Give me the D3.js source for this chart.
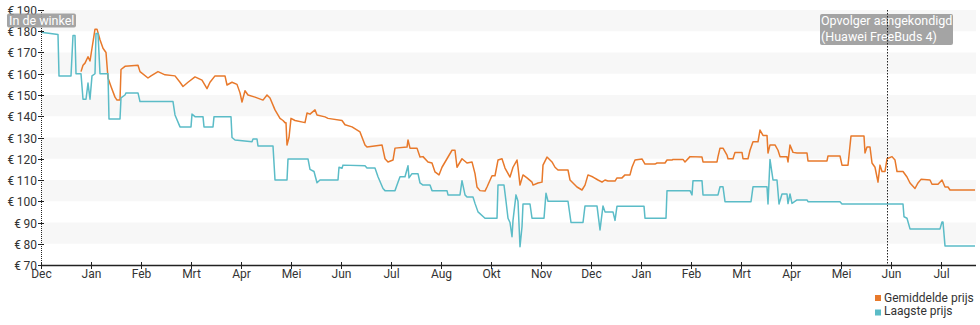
<!DOCTYPE html>
<html>
<head>
<meta charset="utf-8">
<script src="https://cdn.jsdelivr.net/npm/d3@7/dist/d3.min.js"></script>
<style>
  html, body { margin: 0; padding: 0; background: #fff; }
  svg { display: block; font-family: Roboto, "Noto Sans", sans-serif; }
</style>
</head>
<body>
<svg id="chart" width="980" height="325"></svg>
<script>
// Month labels along the time axis (one tick per month, starting in December)
const monthLabels = ["Dec","Jan","Feb","Mrt","Apr","Mei","Jun","Jul","Aug","Okt","Nov",
                     "Dec","Jan","Feb","Mrt","Apr","Mei","Jun","Jul"];
const priceTicks = [70, 80, 90, 100, 110, 120, 130, 140, 150, 160, 170, 180, 190];

// Average price: [months since first December, euro]
const avgPrice = [
  [0.80,161],[0.84,164],[0.88,165],[0.94,168],[0.98,166],[1.02,172],[1.08,181],[1.12,181],
  [1.18,176],[1.24,172],[1.30,170],[1.34,158],[1.40,154],[1.48,149],[1.52,147.6],[1.58,147.6],
  [1.60,162],[1.68,163.5],[1.94,164],[1.98,161],[2.14,158],[2.20,159],[2.34,161],[2.48,159.5],
  [2.68,159],[2.78,156],[2.84,154],[2.94,156],[3.08,158.5],[3.22,157],[3.32,153],[3.38,156],
  [3.48,159],[3.68,159],[3.72,154.7],[3.82,156],[3.92,155],[3.98,151],[4.02,146.7],[4.08,152],
  [4.14,150],[4.28,149],[4.44,147.6],[4.52,150],[4.58,148.6],[4.68,143],[4.78,139],[4.84,138],
  [4.88,137],[4.90,137],[4.92,126.5],[4.96,130],[5.00,139],[5.08,138],[5.28,137],[5.32,141.5],
  [5.38,141],[5.48,143],[5.52,140.6],[5.68,139.7],[5.74,139],[6.02,138],[6.08,136],[6.22,135],
  [6.38,132.6],[6.48,126.5],[6.52,125.5],[6.82,126.5],[6.88,120],[6.94,118.5],[7.04,119.4],
  [7.08,125],[7.32,125.5],[7.34,128.8],[7.38,125],[7.52,125],[7.58,120.8],[7.64,121],[7.74,118.5],
  [7.82,118],[7.88,113.8],[7.96,112.4],[8.02,116],[8.12,120],[8.22,124],[8.28,124],[8.32,116],
  [8.42,120],[8.52,118],[8.62,118.5],[8.68,113],[8.72,106.7],[8.78,105],[8.88,104.8],[8.92,106.7],
  [9.02,112],[9.08,112],[9.14,119.4],[9.22,120],[9.28,115.6],[9.38,111.4],[9.44,116],[9.52,119.4],
  [9.54,116],[9.58,107.6],[9.64,112.4],[9.72,111],[9.82,109],[9.84,107.6],[9.94,108.6],[10.02,109],
  [10.04,117],[10.12,120.8],[10.22,118.5],[10.28,116],[10.34,114.7],[10.54,114.7],[10.58,110],
  [10.64,108.6],[10.72,106.7],[10.82,105.3],[10.88,107.6],[10.94,112.4],[11.04,111.4],[11.14,110],
  [11.22,109],[11.28,110],[11.34,109.5],[11.48,109.5],[11.52,111],[11.62,111],[11.68,112.4],
  [11.78,112.4],[11.82,116],[11.88,119.4],[12.02,119.9],[12.08,117.5],[12.28,117.5],[12.32,118],
  [12.48,118],[12.52,119.4],[12.62,119.4],[12.64,119.7],[12.84,119.7],[12.88,118.5],[12.98,121],
  [13.22,120.8],[13.24,118.5],[13.52,118.5],[13.54,121],[13.58,125],[13.64,125],[13.72,121.7],
  [13.74,120],[13.84,120],[13.88,123],[14.02,123],[14.04,120],[14.14,120],[14.18,124],[14.24,128],
  [14.34,128],[14.38,133.5],[14.44,131],[14.52,131],[14.54,122.7],[14.58,126.5],[14.68,126.5],
  [14.74,124],[14.78,121],[14.92,121],[14.94,118.5],[14.98,126.5],[15.04,123],[15.12,122.7],
  [15.32,122.7],[15.34,119],[15.72,119],[15.74,121.3],[15.98,121.3],[16.02,117],[16.14,117],
  [16.20,130.7],[16.46,130.7],[16.48,122.7],[16.52,125.5],[16.58,125.5],[16.62,118],[16.68,116],
  [16.74,109],[16.78,117],[16.82,114],[16.88,114],[16.92,120],[17.02,121],[17.08,119.4],
  [17.12,114],[17.24,114],[17.32,111.4],[17.38,108.6],[17.48,106],[17.54,108.6],[17.60,110.3],
  [17.78,110],[17.82,108],[17.94,108],[18.02,110],[18.08,106.7],[18.14,106.7],[18.18,105.3],
  [18.68,105.3]
];

// Lowest price: [months since first December, euro]
const lowPrice = [
  [0,179.5],[0.34,178.5],[0.36,159],[0.60,159],[0.64,178],[0.68,178],[0.70,160],[0.80,160],
  [0.84,148],[0.90,148],[0.94,155.6],[0.98,148],[1.02,159],[1.08,160],[1.10,179],[1.14,179],
  [1.18,160],[1.34,160],[1.36,138.7],[1.58,138.7],[1.60,148.6],[1.68,150],[1.70,151],[1.94,151],
  [1.98,146.9],[2.64,146.9],[2.68,140.6],[2.78,135],[3.00,135],[3.02,141],[3.08,139.8],[3.24,139.8],
  [3.26,135],[3.44,135],[3.46,139.8],[3.80,139.8],[3.82,130],[3.88,128.8],[4.22,128],[4.24,129.3],
  [4.32,129.3],[4.34,126],[4.64,126],[4.68,110],[4.92,110],[4.94,119.9],[5.34,119.9],[5.38,115],
  [5.46,114],[5.52,108.7],[5.58,110],[5.94,110],[5.96,116],[6.02,115.5],[6.04,117],[6.48,116.7],
  [6.52,115.6],[6.68,115.6],[6.74,111.5],[6.84,106],[6.88,105],[7.08,105],[7.12,107.6],[7.18,111.5],
  [7.28,111.5],[7.34,116.7],[7.36,111],[7.42,113],[7.54,113],[7.58,108.6],[7.64,107.6],[7.78,107.6],
  [7.82,105],[8.12,105],[8.14,103],[8.38,103],[8.42,109.7],[8.48,103],[8.52,102],[8.64,102],
  [8.68,99],[8.74,95],[8.88,92],[9.12,92],[9.14,107.6],[9.26,107.6],[9.30,100],[9.34,92],
  [9.38,90],[9.42,83.3],[9.44,91],[9.50,103],[9.54,100],[9.58,78.6],[9.62,88],[9.64,98.7],
  [9.78,98.7],[9.82,92],[10.06,92],[10.10,103.8],[10.14,100],[10.54,100],[10.60,90],[10.84,90],
  [10.88,97.8],[11.12,97.8],[11.18,86.5],[11.24,97.8],[11.28,95],[11.44,95],[11.48,91],[11.52,97.7],
  [12.06,97.7],[12.08,92],[12.50,92],[12.52,105],[12.98,105],[13.02,103],[13.04,109.7],[13.22,109.7],
  [13.24,103],[13.54,103],[13.58,106.8],[13.64,106.8],[13.68,99.8],[14.20,99.8],[14.24,106.8],
  [14.52,106.8],[14.54,98.7],[14.58,119.7],[14.64,110],[14.72,110],[14.76,98.7],[14.82,103.4],
  [14.92,103.4],[14.94,98.9],[14.98,103.4],[15.02,99],[15.12,100.6],[15.32,100.6],[15.34,99.8],
  [15.98,99.8],[16.02,98.7],[17.24,98.7],[17.26,92.7],[17.32,92],[17.38,87],[17.98,87],
  [18.02,90.2],[18.04,90.2],[18.08,79],[18.68,79]
];

// Event markers
const events = [
  { t: 16.92, lines: ["Opvolger aangekondigd", "(Huawei FreeBuds 4)"] }
];
const seriesNames = ["Gemiddelde prijs", "Laagste prijs"];
const seriesColors = ["#e8792b", "#5bbcc7"];

const svg = d3.select("#chart");
const x = d3.scaleLinear().domain([0, 18.7]).range([41, 976]);
const y = d3.scaleLinear().domain([70, 190]).range([265, 10]);

// Alternating horizontal bands
const bandLows = priceTicks.filter((v, i) => i % 2 === 1 && v < 190);
svg.append("g").selectAll("rect").data(bandLows).join("rect")
  .attr("x", x(0)).attr("width", x(18.7) - x(0))
  .attr("y", d => y(d + 10)).attr("height", d => y(d) - y(d + 10))
  .attr("fill", "#f7f7f7");

// Price lines
const line = d3.line().x(d => x(d[0])).y(d => y(d[1]));
[avgPrice, lowPrice].forEach((data, i) => {
  svg.append("path").datum(data)
    .attr("d", line)
    .attr("fill", "none")
    .attr("stroke", seriesColors[i])
    .attr("stroke-width", 1.5)
    .attr("stroke-linejoin", "round");
});

// Y axis (dotted) with ticks and euro labels
const yAxis = svg.append("g");
yAxis.append("line")
  .attr("x1", x(0) + 0.5).attr("x2", x(0) + 0.5)
  .attr("y1", y(190)).attr("y2", y(70))
  .attr("stroke", "#222").attr("stroke-width", 1).attr("stroke-dasharray", "1,1");
const yt = yAxis.selectAll("g.tick").data(priceTicks).join("g")
  .attr("transform", d => `translate(0,${Math.round(y(d)) + 0.5})`);
yt.append("line").attr("x1", x(0) - 3).attr("x2", x(0) + 3).attr("stroke", "#222");
yt.append("text")
  .attr("x", x(0) - 4).attr("dy", "0.35em")
  .attr("text-anchor", "end")
  .attr("font-size", 12).attr("fill", "#333")
  .text(d => "€\u2009" + d);

// X axis with month ticks
const xAxis = svg.append("g");
xAxis.append("line")
  .attr("x1", x(0)).attr("x2", x(18.7))
  .attr("y1", 265.5).attr("y2", 265.5)
  .attr("stroke", "#222").attr("stroke-width", 1.5);
const xt = xAxis.selectAll("g.tick").data(monthLabels).join("g")
  .attr("transform", (d, i) => `translate(${Math.round(x(i)) + 0.5},0)`);
xt.append("line").attr("y1", 262).attr("y2", 269).attr("stroke", "#222");
xt.append("text")
  .attr("y", 278).attr("text-anchor", "middle")
  .attr("font-size", 12).attr("fill", "#333")
  .text(d => d);

// "In de winkel" tag
const tag = svg.append("g");
tag.append("rect").attr("x", 7).attr("y", 13.5).attr("width", 69).attr("height", 14)
  .attr("rx", 2).attr("fill", "#9a9a9a").attr("fill-opacity", 0.9);
tag.append("text").attr("x", 9).attr("y", 25)
  .attr("font-size", 12.5).attr("fill", "#fff").text("In de winkel");

// Event annotation with dotted marker line
events.forEach(ev => {
  const ex = Math.round(x(ev.t)) + 0.5;
  const g = svg.append("g");
  g.append("rect").attr("x", 820).attr("y", 14).attr("width", 133).attr("height", 31)
    .attr("rx", 2).attr("fill", "#9a9a9a").attr("fill-opacity", 0.9);
  ev.lines.forEach((t, k) => {
    g.append("text").attr("x", 821).attr("y", 25 + k * 15.5)
      .attr("font-size", 12.5).attr("fill", "#fff").text(t);
  });
  g.append("line").attr("x1", ex).attr("x2", ex)
    .attr("y1", y(190)).attr("y2", y(70))
    .attr("stroke", "#222").attr("stroke-dasharray", "1.5,1.5");
});

// Legend
const legend = svg.append("g");
seriesNames.forEach((name, i) => {
  legend.append("rect").attr("x", 875).attr("y", 295 + i * 14.5)
    .attr("width", 6).attr("height", 6).attr("fill", seriesColors[i]);
  legend.append("text").attr("x", 884).attr("y", 302 + i * 12.8)
    .attr("font-size", 12).attr("fill", "#333").text(name);
});
</script>
</body>
</html>
